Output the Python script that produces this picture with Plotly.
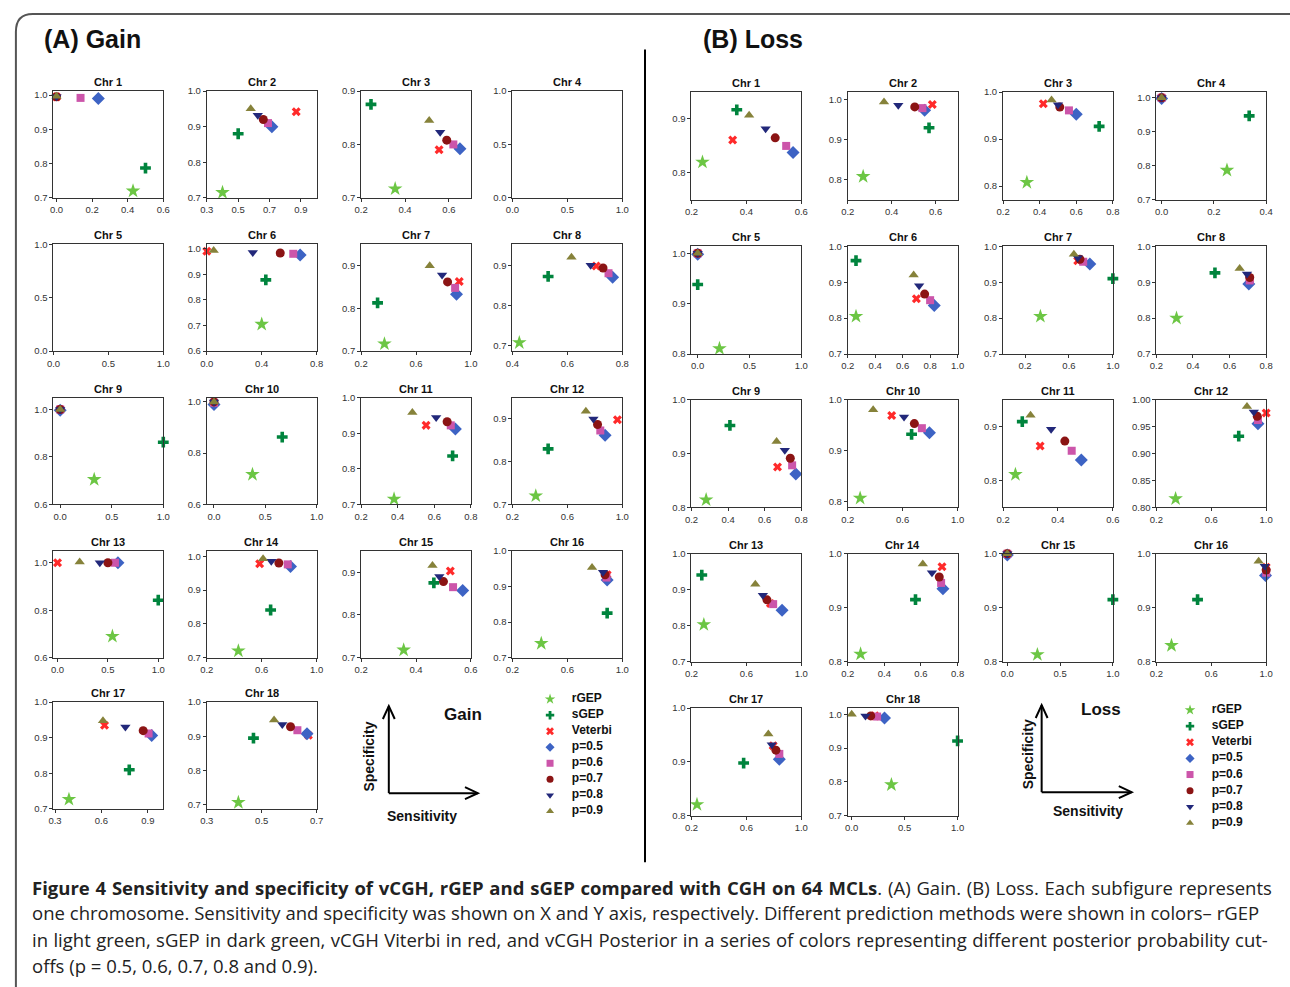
import plotly.graph_objects as go

# ---------------- data ----------------
SERIES = ["rGEP", "sGEP", "Veterbi", "p=0.5", "p=0.6", "p=0.7", "p=0.8", "p=0.9"]
CHROMS = ["Chr %d" % i for i in range(1, 19)]

# Gain: sensitivity (x) and specificity (y) per chromosome 1..18 (None = no data)
G_RGEP_X = [0.43, 0.40, 0.355, None, None, 0.40, 0.37, 0.425, 0.33, 0.375, 0.38, 0.37, 0.545, 0.43, 0.355, 0.41, 0.39, 0.415]
G_RGEP_Y = [0.72, 0.715, 0.717, None, None, 0.705, 0.717, 0.707, 0.705, 0.717, 0.715, 0.72, 0.69, 0.72, 0.718, 0.74, 0.727, 0.707]
G_SGEP_X = [0.50, 0.50, 0.245, None, None, 0.43, 0.32, 0.53, 1.0, 0.665, 0.70, 0.46, 1.0, 0.665, 0.465, 0.89, 0.78, 0.47]
G_SGEP_Y = [0.787, 0.88, 0.875, None, None, 0.878, 0.813, 0.872, 0.862, 0.863, 0.836, 0.83, 0.842, 0.841, 0.875, 0.825, 0.81, 0.895]
G_VIT_X = [0.0, 0.87, 0.555, None, None, 0.0, 0.915, 0.705, 0.0, 0.0, 0.555, 0.965, 0.0, 0.585, 0.525, 0.89, 0.62, 0.67]
G_VIT_Y = [0.995, 0.942, 0.79, None, None, 0.99, 0.863, 0.898, 1.0, 0.997, 0.922, 0.898, 1.0, 0.978, 0.903, 0.933, 0.935, 0.903]
G_P5_X = [0.235, 0.715, 0.65, None, None, 0.68, 0.895, 0.765, 0.0, 0.0, 0.715, 0.875, 0.6, 0.81, 0.57, 0.89, 0.925, 0.665]
G_P5_Y = [0.99, 0.90, 0.792, None, None, 0.975, 0.833, 0.87, 0.997, 0.99, 0.912, 0.862, 1.0, 0.97, 0.857, 0.918, 0.906, 0.908]
G_P6_X = [0.135, 0.69, 0.62, None, None, 0.63, 0.885, 0.75, 0.0, 0.0, 0.69, 0.84, 0.57, 0.79, 0.535, 0.885, 0.905, 0.63]
G_P6_Y = [0.992, 0.91, 0.80, None, None, 0.98, 0.848, 0.88, 1.0, 0.997, 0.922, 0.873, 1.0, 0.976, 0.865, 0.925, 0.912, 0.918]
G_P7_X = [0.0, 0.66, 0.59, None, None, 0.535, 0.83, 0.73, 0.0, 0.0, 0.67, 0.82, 0.50, 0.725, 0.50, 0.875, 0.87, 0.605]
G_P7_Y = [0.995, 0.92, 0.808, None, None, 0.983, 0.862, 0.893, 1.0, 1.0, 0.932, 0.887, 1.0, 0.98, 0.878, 0.933, 0.92, 0.928]
G_P8_X = [0.0, 0.625, 0.56, None, None, 0.335, 0.79, 0.685, 0.0, 0.0, 0.61, 0.79, 0.42, 0.67, 0.485, 0.86, 0.755, 0.575]
G_P8_Y = [0.995, 0.932, 0.823, None, None, 0.985, 0.878, 0.90, 1.0, 1.0, 0.944, 0.90, 1.0, 0.985, 0.89, 0.94, 0.93, 0.935]
G_P9_X = [0.0, 0.58, 0.51, None, None, 0.05, 0.70, 0.615, 0.0, 0.0, 0.48, 0.735, 0.22, 0.61, 0.46, 0.78, 0.61, 0.545]
G_P9_Y = [0.997, 0.95, 0.845, None, None, 0.993, 0.90, 0.92, 1.0, 1.0, 0.958, 0.918, 1.003, 0.993, 0.916, 0.953, 0.948, 0.948]

# Loss
L_RGEP_X = [0.24, 0.27, 0.33, 0.25, 0.21, 0.26, 0.34, 0.31, 0.28, 0.29, 0.245, 0.34, 0.29, 0.27, 0.285, 0.31, 0.24, 0.375]
L_RGEP_Y = [0.82, 0.808, 0.808, 0.787, 0.811, 0.805, 0.805, 0.80, 0.814, 0.807, 0.811, 0.816, 0.803, 0.814, 0.813, 0.83, 0.821, 0.792]
L_SGEP_X = [0.365, 0.57, 0.725, 0.335, 0.0, 0.26, 1.0, 0.52, 0.41, 0.665, 0.27, 0.80, 0.275, 0.57, 1.0, 0.50, 0.58, 1.0]
L_SGEP_Y = [0.917, 0.929, 0.927, 0.947, 0.938, 0.96, 0.91, 0.926, 0.952, 0.932, 0.909, 0.932, 0.941, 0.915, 0.915, 0.915, 0.898, 0.921]
L_VIT_X = [0.35, 0.585, 0.42, 0.0, 0.0, 0.70, 0.68, 0.71, 0.67, 0.52, 0.335, 1.0, 0.775, 0.715, 0.0, 1.0, 0.795, 0.22]
L_VIT_Y = [0.861, 0.987, 0.975, 1.0, 1.0, 0.854, 0.96, 0.91, 0.875, 0.969, 0.864, 0.975, 0.862, 0.976, 1.0, 0.975, 0.93, 0.995]
L_P5_X = [0.57, 0.55, 0.60, 0.0, 0.0, 0.83, 0.79, 0.705, 0.77, 0.795, 0.485, 0.94, 0.86, 0.72, 0.0, 0.995, 0.84, 0.31]
L_P5_Y = [0.838, 0.973, 0.953, 0.998, 0.998, 0.835, 0.951, 0.895, 0.862, 0.935, 0.838, 0.955, 0.843, 0.935, 0.998, 0.96, 0.905, 0.989]
L_P6_X = [0.545, 0.54, 0.56, 0.0, 0.0, 0.80, 0.73, 0.71, 0.75, 0.74, 0.45, 0.94, 0.795, 0.71, 0.0, 1.0, 0.84, 0.24]
L_P6_Y = [0.85, 0.978, 0.961, 1.0, 1.0, 0.85, 0.957, 0.905, 0.878, 0.944, 0.855, 0.962, 0.86, 0.946, 1.0, 0.965, 0.915, 0.993]
L_P7_X = [0.505, 0.505, 0.51, 0.0, 0.0, 0.76, 0.70, 0.71, 0.74, 0.685, 0.425, 0.935, 0.75, 0.70, 0.0, 1.0, 0.815, 0.18]
L_P7_Y = [0.865, 0.981, 0.968, 1.0, 1.0, 0.867, 0.964, 0.913, 0.891, 0.953, 0.873, 0.969, 0.872, 0.957, 1.0, 0.97, 0.922, 0.995]
L_P8_X = [0.47, 0.43, 0.50, 0.0, 0.0, 0.72, 0.68, 0.695, 0.71, 0.61, 0.375, 0.91, 0.72, 0.66, 0.0, 0.99, 0.785, 0.13]
L_P8_Y = [0.882, 0.985, 0.973, 1.0, 1.0, 0.89, 0.968, 0.923, 0.906, 0.966, 0.895, 0.977, 0.885, 0.965, 1.0, 0.977, 0.932, 0.995]
L_P9_X = [0.41, 0.365, 0.465, 0.0, 0.0, 0.68, 0.645, 0.655, 0.665, 0.385, 0.30, 0.86, 0.665, 0.61, 0.0, 0.945, 0.76, 0.0]
L_P9_Y = [0.907, 0.993, 0.983, 1.0, 1.0, 0.92, 0.978, 0.938, 0.922, 0.98, 0.921, 0.987, 0.915, 0.981, 1.0, 0.986, 0.952, 1.0]

# Axis ranges and tick values per chromosome
G_XRANGE = [[-0.017, 0.6], [0.3, 1.0], [0.2, 0.7], [0, 1], [0, 1], [0, 0.8], [0.2, 1.0], [0.4, 0.8], [-0.065, 1.0],
            [-0.07, 1.0], [0.2, 0.8], [0.2, 1.0], [-0.04, 1.05], [0.2, 1.0], [0.2, 0.6], [0.2, 1.0], [0.29, 1.0], [0.3, 0.7]]
G_XTICKS = [[0, 0.2, 0.4, 0.6], [0.3, 0.5, 0.7, 0.9], [0.2, 0.4, 0.6], [0, 0.5, 1], [0, 0.5, 1], [0, 0.4, 0.8],
            [0.2, 0.6, 1.0], [0.4, 0.6, 0.8], [0, 0.5, 1], [0, 0.5, 1], [0.2, 0.4, 0.6, 0.8], [0.2, 0.6, 1.0],
            [0, 0.5, 1], [0.2, 0.6, 1.0], [0.2, 0.4, 0.6], [0.2, 0.6, 1.0], [0.3, 0.6, 0.9], [0.3, 0.5, 0.7]]
G_YRANGE = [[0.7, 1.012], [0.7, 1.0], [0.7, 0.9], [0, 1], [0, 1], [0.6, 1.017], [0.7, 0.95], [0.686, 0.952], [0.6, 1.05],
            [0.6, 1.017], [0.7, 1.0], [0.7, 0.95], [0.6, 1.05], [0.7, 1.016], [0.7, 0.95], [0.7, 1.0], [0.7, 1.0], [0.688, 1.0]]
G_YTICKS = [[0.7, 0.8, 0.9, 1.0], [0.7, 0.8, 0.9, 1.0], [0.7, 0.8, 0.9], [0, 0.5, 1], [0, 0.5, 1], [0.6, 0.7, 0.8, 0.9, 1.0],
            [0.7, 0.8, 0.9], [0.7, 0.8, 0.9], [0.6, 0.8, 1.0], [0.6, 0.8, 1.0], [0.7, 0.8, 0.9, 1.0], [0.7, 0.8, 0.9],
            [0.6, 0.8, 1.0], [0.7, 0.8, 0.9, 1.0], [0.7, 0.8, 0.9], [0.7, 0.8, 0.9, 1.0], [0.7, 0.8, 0.9, 1.0], [0.7, 0.8, 0.9, 1.0]]

L_XRANGE = [[0.2, 0.6], [0.2, 0.7], [0.2, 0.8], [-0.02, 0.4], [-0.06, 1.0], [0.2, 1.0], [0.0, 1.0], [0.2, 0.8], [0.2, 0.8],
            [0.2, 1.0], [0.2, 0.6], [0.2, 1.0], [0.2, 1.0], [0.2, 0.8], [-0.04, 1.0], [0.2, 1.0], [0.2, 1.0], [-0.037, 1.0]]
L_XTICKS = [[0.2, 0.4, 0.6], [0.2, 0.4, 0.6], [0.2, 0.4, 0.6, 0.8], [0, 0.2, 0.4], [0, 0.5, 1], [0.2, 0.4, 0.6, 0.8, 1.0],
            [0.2, 0.6, 1.0], [0.2, 0.4, 0.6, 0.8], [0.2, 0.4, 0.6, 0.8], [0.2, 0.6, 1.0], [0.2, 0.4, 0.6], [0.2, 0.6, 1.0],
            [0.2, 0.6, 1.0], [0.2, 0.4, 0.6, 0.8], [0, 0.5, 1], [0.2, 0.6, 1.0], [0.2, 0.6, 1.0], [0, 0.5, 1]]
L_YRANGE = [[0.75, 0.95], [0.75, 1.018], [0.771, 1.0], [0.7, 1.017], [0.8, 1.014], [0.7, 1.0], [0.7, 1.0], [0.7, 1.0], [0.8, 1.0],
            [0.789, 1.0], [0.75, 0.95], [0.8, 1.0], [0.7, 1.0], [0.8, 1.0], [0.8, 1.0], [0.8, 1.0], [0.8, 1.0], [0.7, 1.018]]
L_YTICKS = [[0.8, 0.9], [0.8, 0.9, 1.0], [0.8, 0.9, 1.0], [0.7, 0.8, 0.9, 1.0], [0.8, 0.9, 1.0], [0.7, 0.8, 0.9, 1.0],
            [0.7, 0.8, 0.9, 1.0], [0.7, 0.8, 0.9, 1.0], [0.8, 0.9, 1.0], [0.8, 0.9, 1.0], [0.8, 0.9], [0.8, 0.85, 0.9, 0.95, 1.0],
            [0.7, 0.8, 0.9, 1.0], [0.8, 0.9, 1.0], [0.8, 0.9, 1.0], [0.8, 0.9, 1.0], [0.8, 0.9, 1.0], [0.7, 0.8, 0.9, 1.0]]

GAIN_X = [G_RGEP_X, G_SGEP_X, G_VIT_X, G_P5_X, G_P6_X, G_P7_X, G_P8_X, G_P9_X]
GAIN_Y = [G_RGEP_Y, G_SGEP_Y, G_VIT_Y, G_P5_Y, G_P6_Y, G_P7_Y, G_P8_Y, G_P9_Y]
LOSS_X = [L_RGEP_X, L_SGEP_X, L_VIT_X, L_P5_X, L_P6_X, L_P7_X, L_P8_X, L_P9_X]
LOSS_Y = [L_RGEP_Y, L_SGEP_Y, L_VIT_Y, L_P5_Y, L_P6_Y, L_P7_Y, L_P8_Y, L_P9_Y]

# ---------------- styles ----------------
COLORS = ["#6cc644", "#00843d", "#ff2a2a", "#3d63c4", "#cc55aa", "#8b1414", "#22287a", "#86823a"]
SYMBOLS = ["star", "cross", "x", "diamond", "square", "circle", "triangle-down", "triangle-up"]
SIZES = [11, 9, 8, 10, 8, 9, 9, 9]
LEG_SIZES = [8, 7, 7, 7, 7, 7, 7, 7]

FONT = "Liberation Sans, Arial, sans-serif"
W, H = 1290, 987


def PX(x):
    return min(1.0, max(0.0, x / W))


def PY(y):
    return min(1.0, max(0.0, 1 - y / H))


def RX(x):
    return x / W


def RY(y):
    return 1 - y / H


GAIN_COLS = [47, 202, 358, 511]
GAIN_ROWS = [86, 241, 396, 551, 704]
LOSS_COLS = [692, 850, 1007, 1162]
LOSS_ROWS = [87, 243, 398, 554, 710]
BOX_W = 111

fig = go.Figure()
layout = dict(width=W, height=H, margin=dict(l=0, r=0, t=0, b=0), paper_bgcolor="white",
              plot_bgcolor="white", showlegend=False, font=dict(family=FONT, color="#222"))
annotations = []
shapes = []
counter = [0]


def ax_names(n):
    return ("xaxis" if n == 1 else "xaxis%d" % n, "yaxis" if n == 1 else "yaxis%d" % n,
            "x" if n == 1 else "x%d" % n, "y" if n == 1 else "y%d" % n)


def add_panel(left, top, w, h, xr, yr, xt, yt, title, xs, ys, k):
    counter[0] += 1
    n = counter[0]
    xa, ya, xr_id, yr_id = ax_names(n)
    yfmt = ".2f" if any(abs(v * 10 - round(v * 10)) > 1e-6 for v in yt) else ".1f"
    common = dict(showgrid=False, zeroline=False, showline=True, linecolor="#333", linewidth=1,
                  mirror=True, ticks="outside", ticklen=3, tickwidth=1, tickcolor="#333",
                  tickfont=dict(family=FONT, size=9.5, color="#333"), fixedrange=True)
    layout[xa] = dict(common, domain=[PX(left), PX(left + w)], range=xr, tickvals=xt,
                      tickformat=".1f", anchor=yr_id)
    layout[ya] = dict(common, domain=[PY(top + h), PY(top)], range=yr, tickvals=yt,
                      tickformat=yfmt, anchor=xr_id)
    annotations.append(dict(text="<b>%s</b>" % title, xref="%s domain" % xr_id, yref="%s domain" % yr_id,
                            x=0.5, y=1, xanchor="center", yanchor="bottom", yshift=1, showarrow=False,
                            font=dict(family=FONT, size=11, color="#111")))
    # empty trace so that every subplot (also the empty ones) is drawn
    fig.add_trace(go.Scatter(x=[None], y=[None], mode="markers", xaxis=xr_id, yaxis=yr_id,
                             hoverinfo="skip", showlegend=False))
    for s in range(len(SERIES)):
        xv, yv = xs[s][k], ys[s][k]
        if xv is None:
            continue
        fig.add_trace(go.Scatter(x=[xv], y=[yv], mode="markers", xaxis=xr_id, yaxis=yr_id,
                                 marker=dict(symbol=SYMBOLS[s], color=COLORS[s], size=SIZES[s],
                                             line=dict(width=0)),
                                 cliponaxis=False, hoverinfo="skip", name=SERIES[s]))


for k in range(18):
    r, c = divmod(k, 4)
    add_panel(GAIN_COLS[c], GAIN_ROWS[r], BOX_W, 108, G_XRANGE[k], G_YRANGE[k], G_XTICKS[k], G_YTICKS[k],
              CHROMS[k], GAIN_X, GAIN_Y, k)
for k in range(18):
    r, c = divmod(k, 4)
    add_panel(LOSS_COLS[c], LOSS_ROWS[r], BOX_W, 109, L_XRANGE[k], L_YRANGE[k], L_XTICKS[k], L_YTICKS[k],
              CHROMS[k], LOSS_X, LOSS_Y, k)


# ---------------- legends (drawn on hidden axes) ----------------
def add_legend(mx, y0, step):
    counter[0] += 1
    n = counter[0]
    xa, ya, xr_id, yr_id = ax_names(n)
    left, right = mx - 9, mx + 80
    top, bottom = y0 - 8, y0 + step * 7.5
    layout[xa] = dict(domain=[PX(left), PX(right)], range=[-9 / 22, 80 / 22], visible=False,
                      anchor=yr_id, fixedrange=True)
    layout[ya] = dict(domain=[PY(bottom), PY(top)], range=[(bottom - y0) / step, -8 / step], visible=False,
                      anchor=xr_id, fixedrange=True)
    for s in range(len(SERIES)):
        fig.add_trace(go.Scatter(x=[0], y=[s], mode="markers", xaxis=xr_id, yaxis=yr_id,
                                 marker=dict(symbol=SYMBOLS[s], color=COLORS[s], size=LEG_SIZES[s]),
                                 cliponaxis=False, hoverinfo="skip"))
    fig.add_trace(go.Scatter(x=[1] * len(SERIES), y=list(range(len(SERIES))), mode="text",
                             text=["<b>%s</b>" % t for t in SERIES], textposition="middle right",
                             textfont=dict(family=FONT, size=12, color="#111"),
                             xaxis=xr_id, yaxis=yr_id, cliponaxis=False, hoverinfo="skip"))


add_legend(549, 701, 16.2)
add_legend(1196, 712, 16.3)


# ---------------- arrows / labels ----------------
def text_ann(text, x, y, size, angle=0, xanchor="center"):
    annotations.append(dict(text=text, x=RX(x), y=RY(y), xref="paper", yref="paper", xanchor=xanchor,
                            yanchor="middle", showarrow=False, textangle=angle,
                            font=dict(family=FONT, size=size, color="#111")))


def arrow_axes(ox, oy, top_y, right_x, word, word_xy, spec_xy, sens_xy):
    ln = dict(color="#000", width=2)
    shapes.append(dict(type="line", xref="paper", yref="paper", x0=RX(ox), y0=RY(oy), x1=RX(ox), y1=RY(top_y), line=ln))
    shapes.append(dict(type="line", xref="paper", yref="paper", x0=RX(ox), y0=RY(oy), x1=RX(right_x), y1=RY(oy), line=ln))
    shapes.append(dict(type="path", xref="paper", yref="paper", line=ln,
                       path="M %f %f L %f %f L %f %f" % (RX(ox - 6), RY(top_y + 13), RX(ox), RY(top_y), RX(ox + 6), RY(top_y + 13))))
    shapes.append(dict(type="path", xref="paper", yref="paper", line=ln,
                       path="M %f %f L %f %f L %f %f" % (RX(right_x - 13), RY(oy - 6), RX(right_x), RY(oy), RX(right_x - 13), RY(oy + 6))))
    text_ann("<b>%s</b>" % word, word_xy[0], word_xy[1], 17)
    text_ann("<b>Specificity</b>", spec_xy[0], spec_xy[1], 14, angle=-90)
    text_ann("<b>Sensitivity</b>", sens_xy[0], sens_xy[1], 14)


arrow_axes(386, 796, 708, 476, "Gain", (461, 716), (366, 759), (420, 819))
arrow_axes(1046, 795, 707, 1137, "Loss", (1106, 711), (1032, 757), (1093, 814))

# panel headers
text_ann("<b>(A) Gain</b>", 35, 33, 25, xanchor="left")
text_ann("<b>(B) Loss</b>", 702, 33, 25, xanchor="left")

# separator and frame
shapes.append(dict(type="line", xref="paper", yref="paper", x0=RX(645), x1=RX(645), y0=RY(44), y1=RY(866),
                   line=dict(color="#000", width=2)))
shapes.append(dict(type="path", xref="paper", yref="paper", line=dict(color="#555", width=2),
                   path="M %f %f L %f %f Q %f %f %f %f L %f %f" % (RX(1300), RY(8), RX(26), RY(8), RX(9), RY(8),
                                                                   RX(9), RY(26), RX(9), RY(1000))))

# caption (word spacing widened to mimic the justified text)
CAPTION = [
    "<b>Figure 4 Sensitivity and specificity of vCGH, rGEP and sGEP compared with CGH on 64 MCLs</b>. (A) Gain. (B) Loss. Each subfigure represents",
    "one chromosome. Sensitivity and specificity was shown on X and Y axis, respectively. Different prediction methods were shown in colors\u2013 rGEP",
    "in light green, sGEP in dark green, vCGH Viterbi in red, and vCGH Posterior in a series of colors representing different posterior probability cut-",
    "offs (p = 0.5, 0.6, 0.7, 0.8 and 0.9).",
]
CAP_Y = [891, 917, 944, 970]
CAP_WS = [1.0, 0.1, 0.6, 0.0]
for line, cy, ws in zip(CAPTION, CAP_Y, CAP_WS):
    annotations.append(dict(text='<span style="word-spacing:%.2fpx">%s</span>' % (ws, line),
                            x=RX(23), y=RY(cy), xref="paper", yref="paper", xanchor="left",
                            yanchor="middle", showarrow=False,
                            font=dict(family="Open Sans, Noto Sans, sans-serif", size=18.5, color="#222")))

layout["annotations"] = annotations
layout["shapes"] = shapes
fig.update_layout(**layout)
fig.write_html("out.html", config={"displayModeBar": False},
               post_script="document.body.style.margin='0';document.body.style.overflow='hidden';")
